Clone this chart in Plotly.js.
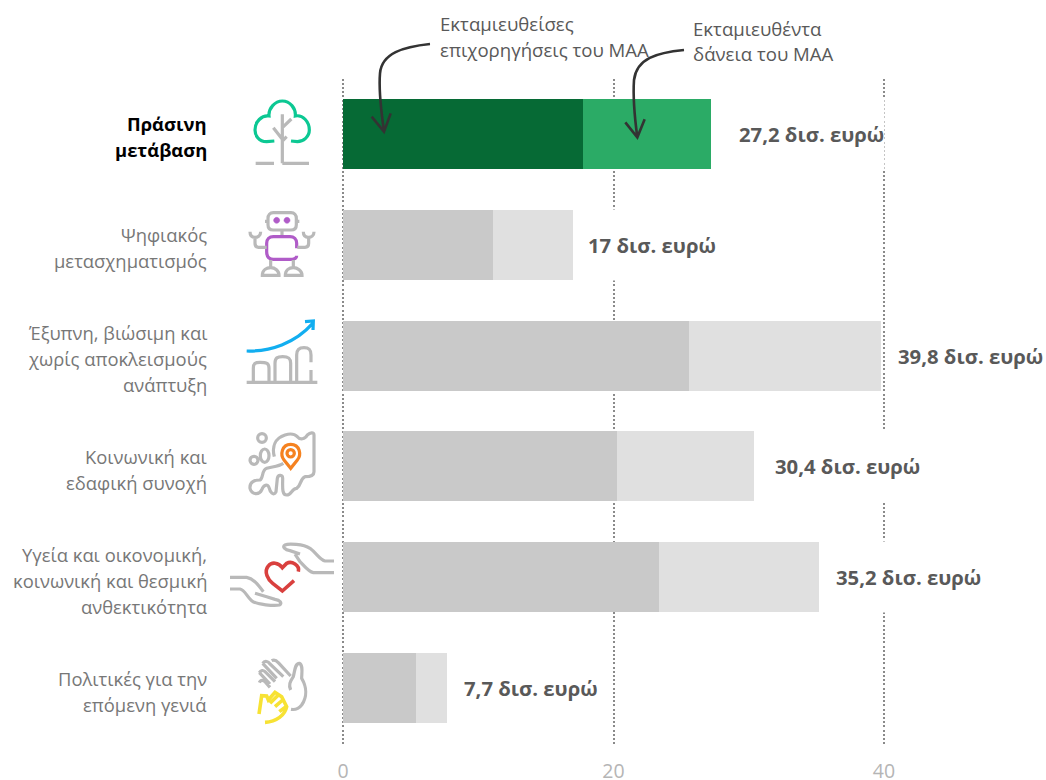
<!DOCTYPE html>
<html><head><meta charset="utf-8">
<script src="https://cdn.plot.ly/plotly-3.0.1.min.js"></script>
<style>html,body{margin:0;padding:0;background:#fff}</style></head>
<body><div id="chart" style="width:1046px;height:780px"></div>
<script>
const categories = ["Πράσινη μετάβαση","Ψηφιακός μετασχηματισμός","Έξυπνη, βιώσιμη και χωρίς αποκλεισμούς ανάπτυξη","Κοινωνική και εδαφική συνοχή","Υγεία και οικονομική, κοινωνική και θεσμική ανθεκτικότητα","Πολιτικές για την επόμενη γενιά"];
const categoryLines = [["Πράσινη","μετάβαση"],["Ψηφιακός","μετασχηματισμός"],["Έξυπνη, βιώσιμη και","χωρίς αποκλεισμούς","ανάπτυξη"],["Κοινωνική και","εδαφική συνοχή"],["Υγεία και οικονομική,","κοινωνική και θεσμική","ανθεκτικότητα"],["Πολιτικές για την","επόμενη γενιά"]];
const grants = [17.75,11.1,25.55,20.25,23.35,5.4];
const loans = [9.45,5.9,14.25,10.15,11.85,2.3];
const totals = [27.2,17,39.8,30.4,35.2,7.7];
const totalLabels = ["27,2 δισ. ευρώ","17 δισ. ευρώ","39,8 δισ. ευρώ","30,4 δισ. ευρώ","35,2 δισ. ευρώ","7,7 δισ. ευρώ"];
const labelGaps = [28,15,17,21,17,17];
const grantColors = ["#066a35","#c9c9c9","#c9c9c9","#c9c9c9","#c9c9c9","#c9c9c9"];
const loanColors = ["#2bab66","#e0e0e0","#e0e0e0","#e0e0e0","#e0e0e0","#e0e0e0"];
const tickValues = [0,20,40];
const noteGrants = ["Εκταμιευθείσες","επιχορηγήσεις του ΜΑΑ"];
const noteLoans = ["Εκταμιευθέντα","δάνεια του ΜΑΑ"];

const W=1046,H=780,FONT='"Open Sans", sans-serif',TXT='#595959';
const G='#b9b9b9';
// decorative icons: path written in 3x crop coordinates around an origin
function conv(d,ox,oy){
  return d.replace(/(-?[\d.]+),(-?[\d.]+)/g,(m,a,b)=>((ox+a/3)/W).toFixed(5)+','+(1-(oy+b/3)/H).toFixed(5));
}
function circ(cx,cy,rx,ry){ry=ry||rx;const k=.5523;
  return `M${cx-rx},${cy} C${cx-rx},${cy-k*ry} ${cx-k*rx},${cy-ry} ${cx},${cy-ry} C${cx+k*rx},${cy-ry} ${cx+rx},${cy-k*ry} ${cx+rx},${cy} C${cx+rx},${cy+k*ry} ${cx+k*rx},${cy+ry} ${cx},${cy+ry} C${cx-k*rx},${cy+ry} ${cx-rx},${cy+k*ry} ${cx-rx},${cy} Z`;}
const shapes=[];
function ic(d,ox,oy,color,w,fill){shapes.push({type:'path',xref:'paper',yref:'paper',path:conv(d,ox,oy),layer:'above',
  line:{color:color,width:w||3.2},fillcolor:fill||'rgba(0,0,0,0)'});}
// tree
ic('M163,183 L140,185 C115,185 105,165 105,150 C105,125 125,105 147,108 C145,85 165,63 187,63 C210,63 228,85 226,108 C248,103 268,125 268,150 C268,170 250,185 232,185 L213,183',220,80,'#0cc893');
ic('M187,103 L187,250 M214,117 L187,143 M160,143 L187,178 M200,170 L187,183 M107,250 L162,250 M187,250 L267,250',220,80,G);
// robot
ic('M160,398 L213,398 C223,398 229,405 229,415 L229,434 C229,444 223,450 213,450 L160,450 C150,450 144,444 144,434 L144,415 C144,405 150,398 160,398 Z M135,424 L144,424 M229,424 L238,424 M186,450 L186,468',220,80,G);
ic(circ(170,421,9),220,80,'#b05cc8',0.5,'#b05cc8');
ic(circ(201,421,9),220,80,'#b05cc8',0.5,'#b05cc8');
ic('M230,505 L230,490 C230,478 222,470 210,470 L160,470 C148,470 140,478 140,490 L140,515 C140,530 148,538 160,538 L210,538 C222,538 230,535 230,527',220,80,'#b05cc8');
ic('M140,502 L115,502 C108,502 105,498 105,490 L105,472 M90,455 C90,468 98,472 105,472 C112,472 122,468 122,455 M232,502 L255,502 C263,502 266,498 266,490 L266,472 M250,455 C250,468 258,472 266,472 C273,472 282,468 282,455 M152,540 L152,562 M220,540 L220,562 M127,586 C127,570 140,563 152,563 C165,563 177,572 177,586 Z M196,586 C196,570 208,563 220,563 C232,563 246,572 246,586 Z',220,80,G);
// growth
ic('M80,153 C150,155 225,130 278,70 M255,65 L280,63 L279,90',220,300,'#12aef0');
ic('M80,247 L292,247 M100,247 L100,205 C100,190 105,187 120,187 C140,187 147,190 147,205 L147,247 M165,247 L165,190 C165,173 172,170 188,170 C205,170 212,175 212,190 L212,247 M230,247 L230,165 C230,148 238,143 252,143 C268,143 273,150 273,165 L273,187 M273,210 L273,247',220,300,G);
// map
ic(circ(126,414,13)+' '+circ(102,481,12)+' '+circ(134,467,13,20),220,300,G);
ic('M163,470 C155,440 165,415 195,405 C210,400 225,403 232,410 C240,420 255,418 262,405 C270,398 282,395 282,405 L282,515 C282,528 270,530 255,530 C240,535 245,555 230,565 C215,565 215,585 200,585 C185,585 188,560 188,535 C188,525 175,522 172,535 L168,575 C160,590 150,575 148,565 C143,548 130,555 125,570 C118,585 95,585 90,565 C88,545 105,540 120,540 C130,535 125,510 140,505 C155,500 175,500 190,490',220,300,G);
ic('M212,505 L192,480 C180,465 185,433 212,433 C240,433 245,465 232,480 Z',220,300,'#f58220',3.2,'#ffffff');
ic(circ(212,460,11),220,300,'#f58220');
// hands & heart
ic('M342,93 L315,93 C300,90 290,70 270,55 C250,42 205,40 195,45 C185,50 195,60 210,62 L240,72 M342,128 L280,128 C265,125 255,110 240,95 L225,72',220,530,G);
ic('M30,142 L80,142 C100,145 115,165 130,185 M30,177 L60,177 C75,180 80,200 95,212 C110,225 165,228 178,225 C188,220 180,210 165,208 L140,200 L105,190',220,530,G);
ic('M235,125 C240,105 215,92 200,100 C195,105 190,110 187,113 C175,97 155,95 145,108 C130,125 145,150 158,160 L187,183 L222,152',220,530,'#d9403e',3.6);
// high five
ic('M128,400 C135,390 145,395 150,402 L190,440 M155,392 C162,388 170,392 175,398 L212,438 M118,428 C122,420 130,420 135,425 L165,455 M118,458 C122,448 130,450 135,455 L150,472 M128,400 L170,445 M118,428 L150,462',220,530,G);
ic('M212,480 C205,465 210,455 220,440 C225,420 225,400 238,400 C250,405 245,430 245,445 C260,470 262,500 245,525 C235,538 225,540 213,538',220,530,G);
ic('M117,552 L125,497 L140,498 L145,510 L165,487 L185,500 L200,530 C195,555 170,575 135,577 M150,520 L175,495 M165,530 L188,510 M178,545 L198,530',220,530,'#f7e234',3.6);
// annotation arrows
ic('M270,132 C190,140 125,160 120,220 C115,280 125,340 132,395 M95,350 L132,395 L152,340',340,0,'#333333',2.6);
ic('M1032,150 C950,158 890,175 882,240 C878,300 885,360 892,412 M856,367 L892,412 L914,358',340,0,'#333333',2.6);

const anns=[];
categoryLines.forEach((lines,i)=>lines.forEach((t,j)=>anns.push({
  xref:'paper',yref:'y',x:209/W,y:categories[i],xanchor:'right',yanchor:'middle',showarrow:false,
  yshift:-((j-(lines.length-1)/2)*26)-3,text:i===0?'<b>'+t+'</b>':t,
  font:{family:FONT,size:18.4,color:i===0?'#000':'#777'}})));
totalLabels.forEach((t,i)=>anns.push({xref:'x',yref:'y',x:totals[i],y:categories[i],xanchor:'left',yanchor:'middle',
  xshift:labelGaps[i]-1,showarrow:false,text:'<b>'+t+'</b>',bgcolor:'#fff',height:70,borderpad:0,
  font:{family:FONT,size:20.3,color:TXT}}));
function note(lines,x,ys){lines.forEach((t,j)=>anns.push({xref:'paper',yref:'paper',x:x/W,y:1-ys[j]/H,xanchor:'left',yanchor:'middle',
  showarrow:false,text:t,font:{family:FONT,size:18.6,color:TXT}}));}
note(noteGrants,438,[23,49]);
note(noteLoans,691,[29,54]);

const traces=[
 {type:'bar',orientation:'h',name:'Εκταμιευθείσες επιχορηγήσεις του ΜΑΑ',y:categories,x:grants,marker:{color:grantColors,line:{width:0}},hoverinfo:'x+y'},
 {type:'bar',orientation:'h',name:'Εκταμιευθέντα δάνεια του ΜΑΑ',y:categories,x:loans,marker:{color:loanColors,line:{width:0}},hoverinfo:'x+y'}
];
const layout={width:W,height:H,margin:{l:0,r:0,t:0,b:0},paper_bgcolor:'#fff',plot_bgcolor:'#fff',
 barmode:'stack',bargap:0.368,showlegend:false,font:{family:FONT},
 xaxis:{domain:[0,1],range:[-343/13.525,703/13.525],tickmode:'array',tickvals:tickValues,ticktext:tickValues.map(String),
   showgrid:true,gridcolor:'#8a8a8a',gridwidth:2.4,griddash:'2px,2.2px',zeroline:false,showline:false,
   ticks:'outside',ticklen:10,tickcolor:'rgba(0,0,0,0)',tickfont:{family:FONT,size:19.5,color:'#b5b5b5'},automargin:false},
 yaxis:{domain:[1-743.5/H,1-78.5/H],type:'category',categoryorder:'array',categoryarray:categories,range:[5.5,-0.5],
   showticklabels:false,showgrid:false,zeroline:false,showline:false,ticks:'',automargin:false},
 shapes:shapes,annotations:anns};
Plotly.newPlot('chart',traces,layout,{displayModeBar:false,responsive:false});
</script></body></html>
